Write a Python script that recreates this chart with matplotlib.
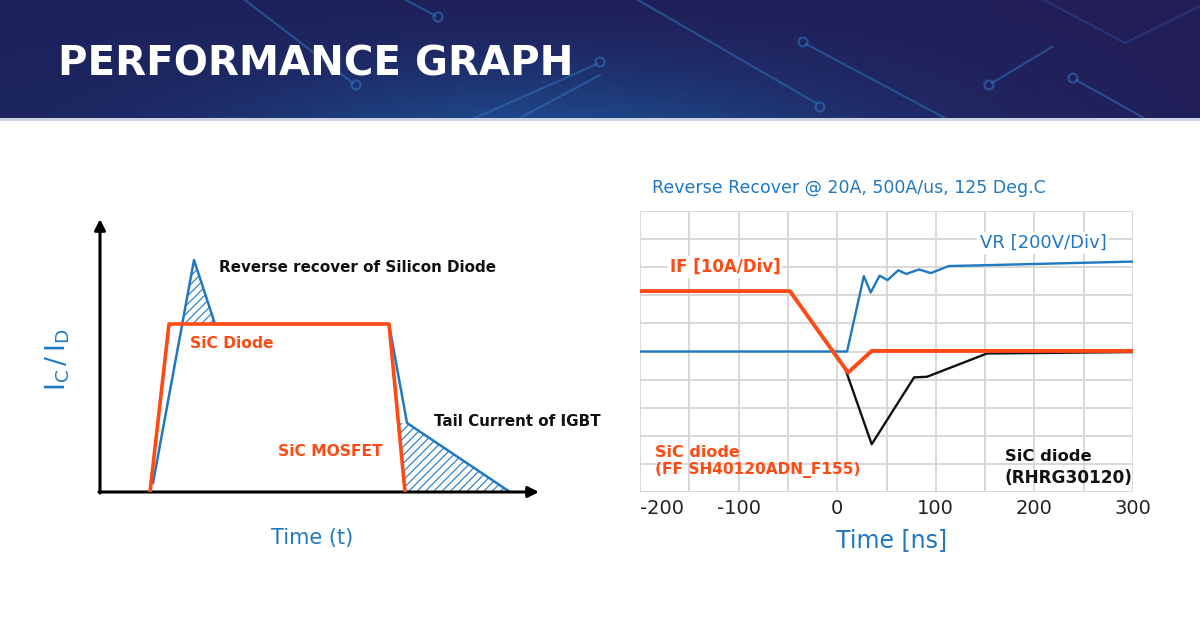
import numpy as np
import matplotlib
matplotlib.use("Agg")
import matplotlib.pyplot as plt

# colours
BLUE = "#1f78c1"
ORANGE = "#ff4a14"

# ---- left schematic (arbitrary units, axes origin at lower left) ----
mosfet_t = [50, 69, 289, 305]
mosfet_i = [0, 168, 168, 0]
igbt_t = [53, 94, 115, 289, 307, 410]
igbt_i = [9, 232, 168, 168, 69, 0]

# ---- right chart: reverse recovery (time in ns, amplitude in divisions) ----
if_t = [-200, -48, 11, 35, 300]
if_v = [7.15, 7.15, 4.25, 5.02, 5.02]
vr_t = [-200, 10, 27, 34, 43, 51, 62, 70, 83, 95, 113, 300]
vr_v = [5.0, 5.0, 7.68, 7.1, 7.7, 7.54, 7.89, 7.76, 7.92, 7.79, 8.04, 8.2]
rhrg_t = [8, 35, 78, 91, 152, 300]
rhrg_v = [4.4, 1.7, 4.08, 4.1, 4.93, 4.98]
xticks = [-200, -100, 0, 100, 200, 300]

fig = plt.figure(figsize=(12, 6.17), dpi=100)

# background / header
bg = fig.add_axes([0, 0, 1, 1])
bg.set_xlim(0, 1200)
bg.set_ylim(617, 0)
bg.axis("off")

gx, gy = np.meshgrid(np.linspace(0, 1, 300), np.linspace(0, 1, 40))
c_left = np.array([28, 34, 92]) / 255
c_right = np.array([34, 30, 88]) / 255
c_glow = np.array([30, 70, 135]) / 255
w = np.exp(-((gx - 0.45) ** 2) / 0.08) * gy ** 1.5
img = (c_left * (1 - gx[..., None]) + c_right * gx[..., None]) * (1 - w[..., None]) + c_glow * w[..., None]
bg.imshow(img, extent=(0, 1200, 118, 0), aspect="auto", zorder=0)

# circuit traces
traces = [
    ([638, 816], [0, 103], (820, 107)),
    ([806, 945], [44, 118], (803, 42)),
    ([992, 1052], [83, 47], (989, 85)),
    ([1076, 1144], [80, 118], (1073, 78)),
    ([406, 436], [0, 16], (438, 17)),
    ([245, 353], [0, 83], (356, 85)),
    ([475, 597], [118, 64], (600, 62)),
    ([520, 600], [118, 75], None),
]
for xs, ys, circ in traces:
    bg.plot(xs, ys, color="#2f6fb8", lw=1.6, alpha=0.55, zorder=1)
    if circ:
        bg.add_patch(plt.Circle(circ, 4.5, fill=False, ec="#2f6fb8", lw=1.6, alpha=0.6, zorder=1))
bg.plot([1044, 1125, 1200], [0, 43, 6], color="#2f4f9a", lw=1.6, alpha=0.45, zorder=1)
bg.plot([0, 1200], [119, 119], color="#c9d2e2", lw=2, zorder=1)

bg.text(58, 64, "PERFORMANCE GRAPH", color="white", fontsize=29, fontweight="bold",
        va="center", ha="left", zorder=2)

# ---- left schematic ----
la = fig.add_axes([100 / 1200, 1 - 492 / 617, 440 / 1200, 277 / 617])
la.set_xlim(0, 440)
la.set_ylim(0, 277)
la.axis("off")

matplotlib.rcParams["hatch.linewidth"] = 0.8
tt = np.linspace(igbt_t[0], igbt_t[2], 200)
ti = np.interp(tt, igbt_t[:3], igbt_i[:3])
la.fill_between(tt, ti, mosfet_i[1], where=ti > mosfet_i[1], interpolate=True,
                facecolor="none", edgecolor=BLUE, hatch="////", lw=0)
yy = np.linspace(0, igbt_i[4], 100)
x_left = np.interp(yy, mosfet_i[3:1:-1], mosfet_t[3:1:-1])
x_right = np.interp(yy, igbt_i[5:3:-1], igbt_t[5:3:-1])
la.fill_betweenx(yy, x_left, x_right, facecolor="none", edgecolor=BLUE, hatch="////", lw=0)

la.plot(igbt_t, igbt_i, color=BLUE, lw=1.8, zorder=3)
la.plot(mosfet_t, mosfet_i, color=ORANGE, lw=2.6, zorder=4)

la.annotate("", xy=(0, 273), xytext=(0, -1), arrowprops=dict(arrowstyle="-|>", color="black",
            lw=2.2, mutation_scale=16, shrinkA=0, shrinkB=0), annotation_clip=False)
la.annotate("", xy=(439, 0), xytext=(-1, 0), arrowprops=dict(arrowstyle="-|>", color="black",
            lw=2.2, mutation_scale=16, shrinkA=0, shrinkB=0), annotation_clip=False)

la.text(119, 224, "Reverse recover of Silicon Diode", fontsize=10.9, fontweight="bold",
        color="#111111", va="center", ha="left")
la.text(90, 149, "SiC Diode", fontsize=11.2, fontweight="bold", color=ORANGE, va="center")
la.text(178, 40, "SiC MOSFET", fontsize=11.2, fontweight="bold", color=ORANGE, va="center")
la.text(334, 70, "Tail Current of IGBT", fontsize=10.9, fontweight="bold",
        color="#111111", va="center")
la.text(212, -46, "Time (t)", fontsize=15, color=BLUE, va="center", ha="center")
la.text(-42, 132, r"$\mathregular{I_C\,/\,I_D}$", fontsize=19, color=BLUE, rotation=90,
        va="center", ha="center")

# ---- right chart ----
ra = fig.add_axes([640 / 1200, 1 - 492 / 617, 493 / 1200, 281 / 617])
ra.set_xlim(-200, 300)
ra.set_ylim(0, 10)
ra.set_xticks(xticks)
ra.set_xticklabels([str(v) for v in xticks])
ra.get_xticklabels()[0].set_ha("left")
ra.set_xticks(np.arange(-150, 300, 100), minor=True)
ra.set_yticks(np.arange(0, 11, 1))
ra.set_yticklabels([])
ra.tick_params(which="both", length=0)
ra.tick_params(axis="x", labelsize=14, labelcolor="#222222", pad=5)
ra.grid(True, which="both", color="#d6d6d6", lw=1.3)
for s in ra.spines.values():
    s.set_visible(False)
ra.set_axisbelow(True)

ra.plot(vr_t, vr_v, color=BLUE, lw=1.7, zorder=3)
ra.plot(rhrg_t, rhrg_v, color="#111111", lw=1.7, zorder=3)
ra.plot(if_t, if_v, color=ORANGE, lw=2.8, zorder=4)

box = dict(facecolor="white", edgecolor="none", pad=1.5)
ra.text(-188, 10.82, "Reverse Recover @ 20A, 500A/us, 125 Deg.C", fontsize=12.5,
        color=BLUE, va="center", ha="left")
ra.text(273, 8.86, "VR [200V/Div]", fontsize=13, color=BLUE, va="center", ha="right", bbox=box)
ra.text(-170, 8.0, "IF [10A/Div]", fontsize=12, fontweight="bold", color=ORANGE,
        va="center", ha="left", bbox=box)
ra.text(-185, 1.42, "SiC diode", fontsize=11.5, fontweight="bold", color=ORANGE, va="center")
ra.text(-185, 0.78, "(FF SH40120ADN_F155)", fontsize=11.1, fontweight="bold", color=ORANGE,
        va="center")
ra.text(170, 1.25, "SiC diode", fontsize=11.8, fontweight="bold", color="#111111", va="center")
ra.text(170, 0.5, "(RHRG30120)", fontsize=12.2, fontweight="bold", color="#111111", va="center")
ra.text(55, -1.71, "Time [ns]", fontsize=17, color=BLUE, va="center", ha="center")

fig.savefig("out.png", dpi=100, facecolor="white")
